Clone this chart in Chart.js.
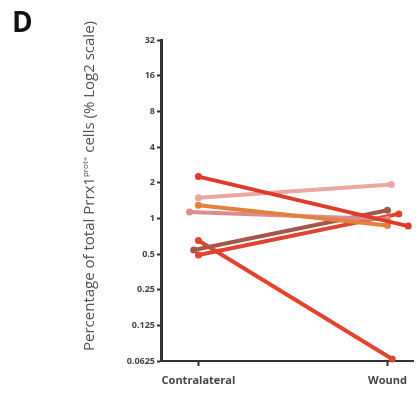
<!DOCTYPE html>
<html>
<head>
<meta charset="utf-8">
<script src="https://cdn.jsdelivr.net/npm/chart.js@4"></script>
<style>
  body { margin: 0; background: #fff; }
  #wrap { position: relative; width: 417px; height: 395px; }
  #panel { position: absolute; left: 12px; top: 2px; font: bold 28px "Open Sans", sans-serif; color: #111; }
  #ytitle {
    position: absolute; left: 88px; top: 186px; white-space: nowrap;
    transform: translate(-50%, -50%) rotate(-90deg);
    font: 15px "Open Sans", sans-serif; color: #505050;
  }
  #ytitle sup { font-size: 8px; }
</style>
</head>
<body>
<div id="wrap">
  <canvas id="chart" width="417" height="395"></canvas>
  <div id="panel">D</div>
  <div id="ytitle">Percentage of total Prrx1<sup>prot+</sup> cells (% Log2 scale)</div>
</div>
<script>
// Groups on the x axis
const groups = ['Contralateral', 'Wound'];
// y tick values (percent, log2 spaced)
const yTicks = [0.0625, 0.125, 0.25, 0.5, 1, 2, 4, 8, 16, 32];

// Each animal: percent at contralateral and wound, plus small horizontal jitter
const contra = [2.25, 1.49, 1.29, 1.13, 0.54, 0.49, 0.65];
const wound  = [0.86, 1.93, 0.87, 0.98, 1.17, 1.09, 0.065];
const contraJitter = [0, 0, 0, -0.047, -0.025, 0, 0];
const woundJitter  = [0.11, 0.02, 0, 0, 0, 0.06, 0.025];
const colors = ['#e03a2a', '#eba5a2', '#e28040', '#dc8c8d', '#a3574b', '#e2432f', '#e3442f'];

const datasets = contra.map((c, i) => ({
  data: [
    { x: 0 + contraJitter[i], y: Math.log2(c) },
    { x: 1 + woundJitter[i], y: Math.log2(wound[i]) }
  ],
  borderColor: colors[i],
  backgroundColor: colors[i],
  borderWidth: 4,
  pointRadius: 3.5,
  pointBorderWidth: 0,
  showLine: true,
  clip: false
}));

new Chart(document.getElementById('chart'), {
  type: 'scatter',
  data: { datasets: datasets },
  options: {
    responsive: false,
    animation: false,
    layout: { padding: { top: 40, right: 0, left: 0, bottom: 0 } },
    plugins: { legend: { display: false }, tooltip: { enabled: false } },
    scales: {
      x: {
        type: 'linear',
        min: -0.198,
        max: 1.135,
        afterBuildTicks: (scale) => { scale.ticks = [{ value: 0 }, { value: 1 }]; },
        afterFit: (scale) => { scale.height = 34; },
        ticks: {
          autoSkip: false,
          maxRotation: 0,
          padding: 8,
          color: '#444',
          font: { family: 'Open Sans', size: 11, weight: 'bold' },
          callback: (v) => groups[v]
        },
        grid: { drawOnChartArea: false, drawTicks: true, tickLength: 5, tickWidth: 2, color: '#333' },
        border: { display: true, color: '#333', width: 2 }
      },
      y: {
        type: 'linear',
        min: Math.log2(yTicks[0]),
        max: Math.log2(yTicks[yTicks.length - 1]),
        afterBuildTicks: (scale) => { scale.ticks = yTicks.map(t => ({ value: Math.log2(t) })); },
        afterFit: (scale) => { scale.width = 161; },
        ticks: {
          padding: 2,
          color: '#444',
          font: { family: 'Open Sans', size: 9, weight: 'bold' },
          callback: (v) => String(Math.pow(2, v))
        },
        grid: { drawOnChartArea: false, drawTicks: true, tickLength: 4, tickWidth: 2, color: '#333' },
        border: { display: true, color: '#333', width: 3 }
      }
    }
  }
});
</script>
</body>
</html>
